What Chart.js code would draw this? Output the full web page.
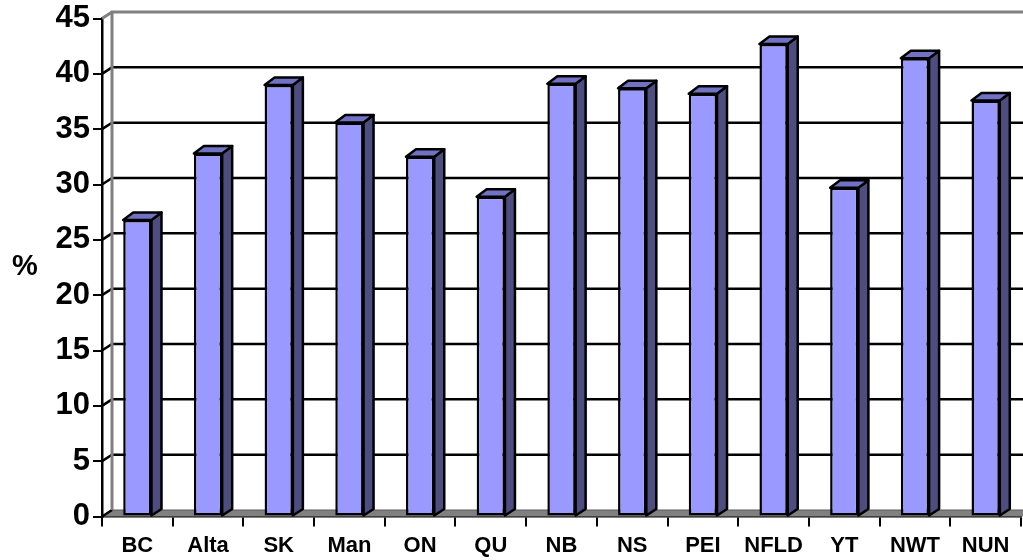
<!DOCTYPE html>
<html>
<head>
<meta charset="utf-8">
<script src="https://cdn.jsdelivr.net/npm/chart.js@4/dist/chart.umd.min.js"></script>
<style>
  body { margin: 0; background: #fff; }
</style>
</head>
<body>
<canvas id="pctChart" width="1023" height="560"></canvas>
<script>
const provinces = ["BC", "Alta", "SK", "Man", "ON", "QU", "NB", "NS", "PEI", "NFLD", "YT", "NWT", "NUN"];
const percents = [26.8, 32.8, 39.0, 35.6, 32.5, 28.9, 39.1, 38.7, 38.2, 42.7, 29.7, 41.4, 37.6];
const yMax = 45;
const yStep = 5;
const yTitle = "%";

// fake 3D depth (shift of the back wall)
const DX = 10, DY = -6.5;
const FONT = "'Liberation Sans', Arial, sans-serif";

function poly(ctx, pts) {
  ctx.beginPath();
  ctx.moveTo(pts[0][0], pts[0][1]);
  for (let i = 1; i < pts.length; i++) ctx.lineTo(pts[i][0], pts[i][1]);
  ctx.closePath();
}

const box3d = {
  id: "box3d",
  beforeDatasetsDraw(chart) {
    const ctx = chart.ctx, a = chart.chartArea, y = chart.scales.y;
    const W = chart.width;
    ctx.save();
    // floor
    poly(ctx, [[a.left, a.bottom], [W + 20, a.bottom], [W + 20, a.bottom + DY], [a.left + DX, a.bottom + DY]]);
    ctx.fillStyle = "#808080";
    ctx.fill();
    ctx.strokeStyle = "#5a5a5a";
    ctx.lineWidth = 1;
    ctx.beginPath();
    ctx.moveTo(a.left + DX, a.bottom + DY);
    ctx.lineTo(W, a.bottom + DY);
    ctx.stroke();

    // back wall grid lines + slants on the side wall
    ctx.strokeStyle = "#000";
    ctx.lineWidth = 2.5;
    for (let v = yStep; v < yMax; v += yStep) {
      const py = y.getPixelForValue(v);
      ctx.beginPath();
      ctx.moveTo(a.left, py);
      ctx.lineTo(a.left + DX, py + DY);
      ctx.lineTo(W, py + DY);
      ctx.stroke();
    }
    // bottom slant
    ctx.beginPath();
    ctx.moveTo(a.left, a.bottom);
    ctx.lineTo(a.left + DX, a.bottom + DY);
    ctx.stroke();

    // wall edges in grey
    ctx.strokeStyle = "#808080";
    ctx.lineWidth = 3;
    ctx.beginPath();
    ctx.moveTo(a.left + DX, a.bottom + DY);
    ctx.lineTo(a.left + DX, a.top + DY);
    ctx.lineTo(W, a.top + DY);
    ctx.moveTo(a.left, a.top);
    ctx.lineTo(a.left + DX, a.top + DY);
    ctx.stroke();
    ctx.restore();
  },
  afterDatasetsDraw(chart) {
    const ctx = chart.ctx;
    const meta = chart.getDatasetMeta(0);
    ctx.save();
    ctx.lineWidth = 2.5;
    ctx.lineJoin = "round";
    ctx.strokeStyle = "#000";
    meta.data.forEach(bar => {
      const { x, y, base, width } = bar.getProps(["x", "y", "base", "width"], true);
      const l = x - width / 2, r = x + width / 2;
      // right side
      poly(ctx, [[r, y], [r + DX, y + DY - 1], [r + DX, base + DY], [r, base]]);
      ctx.fillStyle = "#4d4d80";
      ctx.fill();
      ctx.stroke();
      // top
      poly(ctx, [[l, y], [l + DX, y + DY - 1], [r + DX, y + DY - 1], [r, y]]);
      ctx.fillStyle = "#7272c4";
      ctx.fill();
      ctx.stroke();
    });
    ctx.restore();
  },
  afterDraw(chart) {
    const ctx = chart.ctx;
    ctx.save();
    ctx.fillStyle = "#000";
    ctx.font = "bold 29px " + FONT;
    ctx.textAlign = "center";
    ctx.textBaseline = "middle";
    ctx.fillText(yTitle, 25, 267);
    ctx.restore();
  }
};

new Chart(document.getElementById("pctChart"), {
  type: "bar",
  data: {
    labels: provinces,
    datasets: [{
      data: percents,
      backgroundColor: "#9999ff",
      borderColor: "#000",
      borderWidth: 2.5,
      borderSkipped: false,
      barPercentage: 0.4,
      categoryPercentage: 1
    }]
  },
  options: {
    responsive: false,
    animation: false,
    layout: { padding: { top: 18.5, right: 2, left: 0, bottom: 0 } },
    plugins: { legend: { display: false }, tooltip: { enabled: false } },
    scales: {
      x: {
        afterFit: s => { s.height = 43.5; },
        grid: { offset: true, drawOnChartArea: false, tickLength: 10, color: "#000", lineWidth: 2 },
        border: { color: "#000", width: 2.5 },
        ticks: { color: "#000", padding: 6, font: { family: FONT, size: 22, weight: "bold" }, maxRotation: 0 }
      },
      y: {
        min: 0,
        max: yMax,
        afterFit: s => { s.width = 102; },
        grid: { drawOnChartArea: false, tickLength: 9, color: "#000", lineWidth: 2 },
        border: { color: "#000", width: 2.5 },
        ticks: { stepSize: yStep, color: "#000", padding: 3, font: { family: FONT, size: 31, weight: "bold", lineHeight: 1 } }
      }
    }
  },
  plugins: [box3d]
});
</script>
</body>
</html>
